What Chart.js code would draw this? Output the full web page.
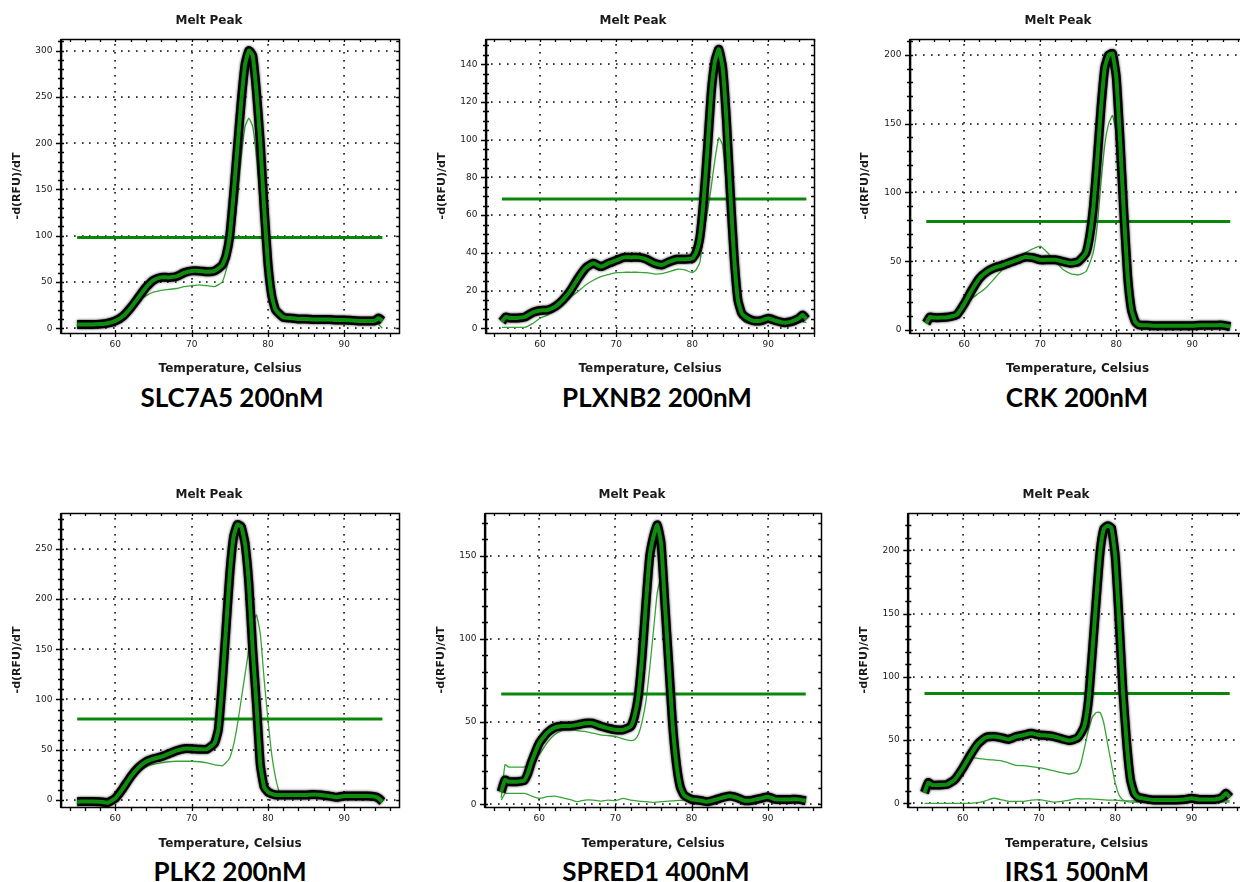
<!DOCTYPE html>
<html>
<head>
<meta charset="utf-8">
<title>Melt Peak</title>
<script src="https://cdn.jsdelivr.net/npm/chart.js@4.4.1/dist/chart.umd.min.js"></script>
<style>
  html, body { margin: 0; padding: 0; background: #fff; }
  body { width: 1240px; height: 882px; overflow: hidden; position: relative; }
  canvas { position: absolute; }
  .caption {
    position: absolute; transform: translate(-50%, -50%);
    font-family: Lato, "Open Sans", sans-serif; font-weight: 700; font-size: 26px;
    line-height: 1; white-space: nowrap; color: #000;
  }
</style>
</head>
<body>
<script>
// ---- SLC7A5 200nM ----
const slcTemps = [55,56,57,58,59,60,61,62,63,64,65,66,67,68,69,70,71,72,73,74,74.5,75,75.5,76,76.5,77,77.5,78,78.5,79,79.5,80,80.5,81,82,83,84,85,86,87,88,89,90,91,92,93,94,94.5,95];
const slcMain = [4,4,4,4.5,5.5,8,13,22,33,44,52,55,55,56,60,62,62,61,62,68,78,100,145,195,245,285,300,295,255,200,130,70,35,20,12,11,10,10,9.5,9.5,9.5,9,9,8.5,8,8,8,11,8];
const slcRep = [3,3,3,4,5,7.5,12,20,29,35,39,41,42,43,45,46,47,46,45,50,62,80,105,140,185,218,227,218,185,135,85,45,25,16,11,10,9.5,9,9,9,8.5,8.5,8,7.5,7,7,6,4,0];
const slcThreshold = 98;

// ---- PLXNB2 200nM ----
const plxTemps = [55,55.5,56,57,58,59,60,61,62,63,64,65,66,67,68,69,70,71,72,73,74,75,76,77,78,79,80,80.5,81,81.5,82,82.5,83,83.5,84,84.5,85,85.5,86,86.5,87,88,89,90,91,92,93,94,94.5,95];
const plxMain = [3.5,6,5.5,5.5,6,8.3,9.4,9.7,11.5,15,20,26.5,32,34.5,32.7,34.5,36,37.6,37.6,37.6,36.6,34.5,33.6,35.3,36.6,36.6,37,40,48,68,95,125,142,148,138,110,72,38,15,8,6,4,4,5.3,4,3,3.5,5.3,7,4.8];
const plxRep = [0.5,0.5,0.5,0.5,0.5,2.5,5.3,7,9.7,13,16.5,19.5,23,25.5,27.4,28.5,29.5,29.7,29.7,29.7,29.5,28.8,29,30,31.3,31,29.5,31,35,50,62,75,90,101,97,75,50,28,12,5,3,3,3,3.5,3,2.5,2.5,3,3.5,3];
const plxThreshold = 68.5;

// ---- CRK 200nM ----
const crkTemps = [55,55.5,56,57,58,59,60,61,62,63,64,65,66,67,68,69,70,71,72,73,74,75,76,76.5,77,77.5,78,78.5,79,79.5,80,80.5,81,81.5,82,82.5,83,84,85,86,87,88,89,90,91,92,93,94,95];
const crkMain = [5,9.5,9,9,9.5,11,19,29,37.6,42.4,45.3,47,49,51,53,52.6,51,51,51,49.7,48.5,49.7,55.8,68,90,124,162,191,200,201,184,138,85,39,14.5,6,3.6,3.5,3,3,3,3,3,3,3.5,3.5,3.5,3.5,2.5];
const crkRep = [5,9.5,9,9,9.5,11,18,23,27,31.5,37.6,43.6,47,52,56,59,61,56,49.7,44,41,40,42.4,48.5,57,76,108,135,150,156,143,107,70,34,14.5,6,3.5,3,3,3,3,3,3,3,3,3,3,3,2];
const crkThreshold = 78.8;

// ---- PLK2 200nM ----
const plkTemps = [55,56,57,58,59,60,61,62,63,64,65,66,67,68,69,70,71,72,73,73.5,74,74.5,75,75.5,76,76.5,77,77.5,78,78.5,79,79.5,80,80.5,81,81.5,82,83,84,85,86,87,88,89,90,91,92,93,94,94.5,95];
const plkMain = [-1.7,-1.5,-1.5,-1.7,-2.7,1.7,11.6,23,32,38,41,43,46,49,51,51,50.5,50.5,56.5,70,115,170,225,262,274,272,255,215,150,95,35,13,8,6,5,5,5,5,5,5,5.5,5,4,2.7,4,4,4,4,3.3,1.7,-1.7];
const plkRep = [-1.7,-1.5,-1.5,-1.7,-2.7,1.5,10,21.6,28,33,35.5,37,38,38.5,38.5,38.5,38,37,35,34.5,34,37,42,55,75,100,125,150,175,184,165,120,80,45,22,8,5,5,5,5,5,5,4,2.7,4,4,4,4,3,1.5,-1.7];
const plkThreshold = 80.5;

// ---- SPRED1 400nM ----
const spredTemps = [55,55.5,56,57,58,58.5,59,60,61,62,63,64,65,66,67,68,69,70,71,72,72.5,73,73.5,74,74.5,75,75.5,76,76.5,77,77.5,78,78.5,79,80,81,82,83,84,85,86,87,88,89,90,91,92,93,94,95];
const spredMain = [7.6,14.7,13.7,13.7,14.3,18.7,25.8,37,43,46.3,47.3,47.3,48,49,49,47.3,46,45,45,47,53,65,89,121,149.6,161.7,168.7,157.6,121,85,49,24.8,10.7,5.6,3,2.5,1.6,2.6,4,5,4,2.2,2.5,3.5,4.6,3,3,3,3,2.2];
const spredRepA = [4,24,22.5,22.5,22.5,24,26,30,37,42,44.5,45,44.5,44,43,42,41.5,41,39.5,38.5,39,42,50,62,82,105,128,137,112,75,42,20,8,4,3,2.5,1.6,2.6,4,5,4,2.2,2.5,3.5,4.6,3,3,3,3,2.2];
const spredRepB = [2.6,6.6,6.6,6.6,6.6,6,5,3.6,4.6,5,4,3,1.6,2.6,2.6,2,2.6,2.2,3.6,2.6,2.3,2,1.8,1.6,1.4,1.2,1.4,1.6,1.8,2,2.1,2.2,2.4,2.6,2.6,2.5,1.6,2.6,3.5,4,3.5,2.2,2.5,3,4,3,3,3,3,2];
const spredThreshold = 66.6;

// ---- IRS1 500nM ----
const irsTemps = [55,55.5,56,57,58,59,60,61,62,63,64,65,66,67,68,69,70,71,72,73,74,75,75.5,76,76.5,77,77.5,78,78.5,79,79.5,80,80.5,81,81.5,82,82.5,83,84,85,86,87,88,89,90,91,92,93,94,94.5,95];
const irsMain = [8.4,16.4,14.5,14.5,15,19,27.7,38,47,52,52.8,52,50.5,52.8,54,55.4,54,53.6,52.8,51,49.6,51.5,55.4,62,82,120,160,198,217,219.5,217.7,195,145,89,47.5,18.5,7.9,4.7,3.5,2.6,2.6,2.6,2.6,3,4,3,3,3,4.7,7.9,4.7];
const irsRepA = [8.4,16,14.5,14.5,15,19,27,36,35.6,34.8,34.3,33.8,32,30,29.8,29,28.2,27,25.6,24.3,23.2,25,31.7,44.9,58,68,71.8,71.8,63.3,47,31,16,6.6,2.6,1.5,1,1,1,1,1,1,1,1,1,1,1,1,1,1,1,1];
const irsRepB = [0,0,0,0,0,0,0,0,0.5,2,4,3,1.5,1.5,1.5,2.5,3,2,1,1.5,2.5,3.7,3.6,3.5,3.5,3.4,3.2,3,2.8,2.5,2.5,2.6,2.3,2,2,2,2,2,2,2,2,2,2,2,2.5,2,2,2,2,2,2];
const irsThreshold = 86.8;

// Threshold line spans the scanned temperature window
const scanStart = 55;
const scanEnd = 95;

const chartTitle = 'Melt Peak';
const xAxisTitle = 'Temperature, Celsius';
const yAxisTitle = '-d(RFU)/dT';

// Panel layout: plot rectangle on the page, axis ranges and tick steps
const panels = [
  { caption: 'SLC7A5 200nM', temps: slcTemps, main: slcMain, reps: [slcRep], threshold: slcThreshold,
    layout: { plotL: 61, plotT: 39, plotR: 399.2, plotB: 333, xMin: 52.88, xMax: 97.2, yMin: -5.1, yMax: 312.6, yMajor: 50, yMinor: 10,
              titleX: 209, titleY: 21, yTitleX: 18, xTitleY: 369, capX: 232, capY: 397 } },
  { caption: 'PLXNB2 200nM', temps: plxTemps, main: plxMain, reps: [plxRep], threshold: plxThreshold,
    layout: { plotL: 486, plotT: 39, plotR: 814, plotB: 333, xMin: 52.9, xMax: 96.0, yMin: -2.5, yMax: 153.4, yMajor: 20, yMinor: 5,
              titleX: 633, titleY: 21, yTitleX: 443, xTitleY: 369, capX: 657, capY: 397 } },
  { caption: 'CRK 200nM', temps: crkTemps, main: crkMain, reps: [crkRep], threshold: crkThreshold,
    layout: { plotL: 910, plotT: 39, plotR: 1245, plotB: 333, xMin: 52.86, xMax: 96.94, yMin: -2.2, yMax: 211.6, yMajor: 50, yMinor: 10,
              titleX: 1058, titleY: 21, yTitleX: 866, xTitleY: 369, capX: 1077, capY: 397 } },
  { caption: 'PLK2 200nM', temps: plkTemps, main: plkMain, reps: [plkRep], threshold: plkThreshold,
    layout: { plotL: 61, plotT: 513, plotR: 399.2, plotB: 807, xMin: 52.88, xMax: 97.2, yMin: -7, yMax: 285.5, yMajor: 50, yMinor: 10,
              titleX: 209, titleY: 495, yTitleX: 18, xTitleY: 844, capX: 230, capY: 871 } },
  { caption: 'SPRED1 400nM', temps: spredTemps, main: spredMain, reps: [spredRepA, spredRepB], threshold: spredThreshold,
    layout: { plotL: 485, plotT: 513, plotR: 821.3, plotB: 807, xMin: 52.87, xMax: 97.04, yMin: -1.6, yMax: 175.9, yMajor: 50, yMinor: 10,
              titleX: 632, titleY: 495, yTitleX: 442, xTitleY: 844, capX: 656, capY: 871 } },
  { caption: 'IRS1 500nM', temps: irsTemps, main: irsMain, reps: [irsRepA, irsRepB], threshold: irsThreshold,
    layout: { plotL: 908.3, plotT: 513, plotR: 1245, plotB: 807, xMin: 52.88, xMax: 97.0, yMin: -2.9, yMax: 229.5, yMajor: 50, yMinor: 10,
              titleX: 1056, titleY: 495, yTitleX: 865, xTitleY: 844, capX: 1077, capY: 871 } }
];

const FONT = '"DejaVu Sans", Verdana, sans-serif';
const INK = '#1a1a1a';

// Dotted grid, frame with minor/major tick marks and the chart heading
const framePlugin = {
  id: 'frame',
  beforeDatasetsDraw(chart, args, opts) {
    const ctx = chart.ctx, a = chart.chartArea, xs = chart.scales.x, ys = chart.scales.y;
    ctx.save();
    ctx.fillStyle = '#111';
    xs.ticks.forEach(t => {
      const px = Math.round(xs.getPixelForValue(t.value));
      for (let y = a.top + 5; y < a.bottom - 1; y += 7.8) ctx.fillRect(px - 0.75, Math.round(y), 1.6, 1.6);
    });
    ys.ticks.forEach(t => {
      const py = Math.round(ys.getPixelForValue(t.value));
      for (let x = a.left + 5; x < a.right - 1; x += 7.8) ctx.fillRect(Math.round(x), py - 0.75, 1.6, 1.6);
    });
    ctx.restore();
  },
  afterDatasetsDraw(chart, args, opts) {
    const ctx = chart.ctx, a = chart.chartArea, xs = chart.scales.x, ys = chart.scales.y;
    ctx.save();
    ctx.strokeStyle = '#000';
    ctx.lineWidth = 1.3;
    ctx.beginPath();
    const xk0 = Math.ceil(xs.min / opts.xMinor), xk1 = Math.floor(xs.max / opts.xMinor);
    for (let k = xk0; k <= xk1; k++) {
      const v = k * opts.xMinor;
      const px = Math.round(xs.getPixelForValue(v)) + 0.5;
      const major = (v % opts.xMajor) === 0;
      ctx.moveTo(px, a.bottom - (major ? 3 : 0)); ctx.lineTo(px, a.bottom + 4);
      ctx.moveTo(px, a.top); ctx.lineTo(px, a.top + 3);
    }
    const yk0 = Math.ceil(ys.min / opts.yMinor), yk1 = Math.floor(ys.max / opts.yMinor);
    for (let k = yk0; k <= yk1; k++) {
      const v = k * opts.yMinor;
      const py = Math.round(ys.getPixelForValue(v)) + 0.5;
      const major = (v % opts.yMajor) === 0;
      ctx.moveTo(a.left - (major ? 5 : 3), py); ctx.lineTo(a.left + 3, py);
      ctx.moveTo(a.right - 3, py); ctx.lineTo(a.right, py);
    }
    ctx.stroke();
    ctx.lineWidth = 1.5;
    ctx.strokeRect(Math.round(a.left) + 0.5, Math.round(a.top) + 0.5, Math.round(a.right - a.left), Math.round(a.bottom - a.top));
    ctx.lineWidth = 2.2;
    ctx.beginPath();
    ctx.moveTo(Math.round(a.left), a.top); ctx.lineTo(Math.round(a.left), a.bottom + 1);
    ctx.stroke();
    ctx.restore();
  },
  afterDraw(chart, args, opts) {
    const ctx = chart.ctx;
    ctx.save();
    ctx.font = 'bold 12px ' + FONT;
    ctx.fillStyle = INK;
    ctx.textAlign = 'center';
    ctx.textBaseline = 'middle';
    ctx.fillText(opts.text, opts.x, opts.y);
    ctx.restore();
  }
};

// Soft dark edge around the highlighted trace
const haloPlugin = {
  id: 'halo',
  beforeDatasetDraw(chart, args) {
    const ds = chart.data.datasets[args.index];
    chart.ctx.save();
    if (ds.halo) {
      chart.ctx.shadowColor = 'rgba(0,0,0,0.9)';
      chart.ctx.shadowBlur = 2.5;
    }
  },
  afterDatasetDraw(chart) {
    chart.ctx.restore();
  }
};

function points(temps, values) {
  return temps.map((t, i) => ({ x: t, y: values[i] }));
}

function buildPanel(p) {
  const L = p.layout;
  const cLeft = Math.round(L.yTitleX - 8.6);
  const cTop = Math.round(L.titleY - 16);
  const cRight = Math.max(L.plotR + 12, 2 * L.titleX - cLeft);
  const cBottom = L.xTitleY + 9.2;
  const W = Math.ceil(cRight - cLeft);
  const H = Math.ceil(cBottom - cTop);

  const canvas = document.createElement('canvas');
  canvas.width = W; canvas.height = H;
  canvas.style.left = cLeft + 'px';
  canvas.style.top = cTop + 'px';
  canvas.style.width = W + 'px';
  canvas.style.height = H + 'px';
  document.body.appendChild(canvas);

  const cap = document.createElement('div');
  cap.className = 'caption';
  cap.textContent = p.caption;
  cap.style.left = L.capX + 'px';
  cap.style.top = L.capY + 'px';
  document.body.appendChild(cap);

  const yAxisWidth = L.plotL - cLeft;
  const xAxisHeight = cBottom - L.plotB;

  const common = { pointRadius: 0, pointHoverRadius: 0, fill: false, borderJoinStyle: 'round', tension: 0.15 };
  const datasets = [
    Object.assign({ data: points(p.temps, p.main), borderColor: '#0e8c0e', borderWidth: 4, order: 0 }, common),
    Object.assign({ data: points(p.temps, p.main), borderColor: '#000', borderWidth: 9, order: 1, halo: true }, common),
    Object.assign({}, common, { data: [{ x: scanStart, y: p.threshold }, { x: scanEnd, y: p.threshold }],
      borderColor: '#0a870a', borderWidth: 3, order: 2, tension: 0 })
  ];
  p.reps.forEach(r => datasets.push(Object.assign({ data: points(p.temps, r), borderColor: '#36a436', borderWidth: 1.3, order: 3 }, common)));

  new Chart(canvas, {
    type: 'line',
    data: { datasets },
    plugins: [framePlugin, haloPlugin],
    options: {
      responsive: false,
      animation: false,
      devicePixelRatio: 1,
      events: [],
      layout: { padding: { left: 0, top: L.plotT - cTop, right: W - (L.plotR - cLeft), bottom: H - (cBottom - cTop) } },
      plugins: {
        legend: { display: false },
        tooltip: { enabled: false },
        title: { display: false },
        frame: { text: chartTitle, x: L.titleX - cLeft, y: L.titleY - cTop, xMinor: 2, xMajor: 10, yMinor: L.yMinor, yMajor: L.yMajor }
      },
      scales: {
        x: {
          type: 'linear', min: L.xMin, max: L.xMax,
          afterFit: s => { s.height = xAxisHeight; },
          grid: { display: false, drawTicks: false },
          border: { display: false },
          ticks: { stepSize: 10, includeBounds: false, padding: 6, maxRotation: 0, autoSkip: false,
                   color: INK, font: { family: FONT, size: 9 } },
          title: { display: true, text: xAxisTitle, color: INK, padding: { top: 0, bottom: 2 },
                   font: { family: FONT, size: 12, weight: 'bold' } }
        },
        y: {
          type: 'linear', min: L.yMin, max: L.yMax,
          afterFit: s => { s.width = yAxisWidth; },
          grid: { display: false, drawTicks: false },
          border: { display: false },
          ticks: { stepSize: L.yMajor, includeBounds: false, padding: 8.5, autoSkip: false,
                   color: INK, font: { family: FONT, size: 9 } },
          title: { display: true, text: yAxisTitle, color: INK, padding: { top: 2, bottom: 0 },
                   font: { family: FONT, size: 11, weight: 'bold' } }
        }
      }
    }
  });
}

panels.forEach(buildPanel);
</script>
</body>
</html>
